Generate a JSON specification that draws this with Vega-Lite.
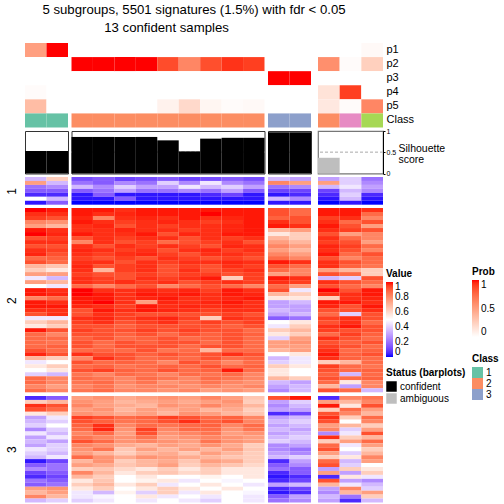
{
"$schema": "https://vega.github.io/schema/vega-lite/v6.json",
"padding": {"left": 5, "top": 2, "right": 0, "bottom": 0},
"background": "white",
"title": {"text": ["5 subgroups, 5501 signatures (1.5%) with fdr < 0.05", "13 confident samples\u00a0\u00a0\u00a0\u00a0\u00a0\u00a0\u00a0\u00a0\u00a0\u00a0\u00a0\u00a0\u00a0\u00a0\u00a0\u200b"], "anchor": "start", "align": "center", "dx": 189, "fontSize": 13.2, "fontWeight": "normal", "lineHeight": 18, "baseline": "top", "offset": 8, "color": "black"},
"datasets": {
"anno": [
{"sample":"s01","grp":"A","p1":0.5,"p2":0,"p3":0,"p4":0.02,"p5":0.35,"Class":"1","sil":0.53,"status":"confident"},
{"sample":"s02","grp":"A","p1":1,"p2":0,"p3":0,"p4":0,"p5":0,"Class":"1","sil":0.53,"status":"confident"},
{"sample":"s03","grp":"B","p1":0,"p2":1,"p3":0,"p4":0,"p5":0,"Class":"2","sil":0.86,"status":"confident"},
{"sample":"s04","grp":"B","p1":0,"p2":1,"p3":0,"p4":0,"p5":0,"Class":"2","sil":0.86,"status":"confident"},
{"sample":"s05","grp":"B","p1":0,"p2":1,"p3":0,"p4":0,"p5":0,"Class":"2","sil":0.86,"status":"confident"},
{"sample":"s06","grp":"B","p1":0,"p2":1,"p3":0,"p4":0,"p5":0,"Class":"2","sil":0.86,"status":"confident"},
{"sample":"s07","grp":"B","p1":0,"p2":0.86,"p3":0,"p4":0,"p5":0.07,"Class":"2","sil":0.78,"status":"confident"},
{"sample":"s08","grp":"B","p1":0,"p2":0.62,"p3":0,"p4":0,"p5":0.2,"Class":"2","sil":0.52,"status":"confident"},
{"sample":"s09","grp":"B","p1":0,"p2":0.85,"p3":0,"p4":0,"p5":0.05,"Class":"2","sil":0.82,"status":"confident"},
{"sample":"s10","grp":"B","p1":0,"p2":0.93,"p3":0,"p4":0,"p5":0.02,"Class":"2","sil":0.84,"status":"confident"},
{"sample":"s11","grp":"B","p1":0,"p2":0.9,"p3":0,"p4":0,"p5":0.03,"Class":"2","sil":0.84,"status":"confident"},
{"sample":"s12","grp":"C","p1":0,"p2":0,"p3":1,"p4":0,"p5":0,"Class":"3","sil":0.97,"status":"confident"},
{"sample":"s13","grp":"C","p1":0,"p2":0,"p3":1,"p4":0,"p5":0,"Class":"3","sil":0.97,"status":"confident"},
{"sample":"s14","grp":"D","p1":0,"p2":0.58,"p3":0,"p4":0.15,"p5":0.12,"Class":"2","sil":0.37,"status":"ambiguous"},
{"sample":"s15","grp":"D","p1":0,"p2":0.02,"p3":0,"p4":0.9,"p5":0.02,"Class":"4","sil":0,"status":"ambiguous"},
{"sample":"s16","grp":"D","p1":0.03,"p2":0.25,"p3":0,"p4":0,"p5":0.62,"Class":"5","sil":0,"status":"ambiguous"}
],
"heat": [
{"g":1,"r":1,"s01":0.35,"s02":0.63,"s03":0.12,"s04":0.15,"s05":0.1,"s06":0.12,"s07":0.15,"s08":0.1,"s09":0.12,"s10":0.15,"s11":0.12,"s12":0.35,"s13":0.3,"s14":0.3,"s15":0.4,"s16":0.2},
{"g":1,"r":2,"s01":0.75,"s02":0.35,"s03":0.2,"s04":0.15,"s05":0.25,"s06":0.2,"s07":0.4,"s08":0.25,"s09":0.45,"s10":0.25,"s11":0.2,"s12":0.81,"s13":0.75,"s14":0.75,"s15":0.4,"s16":0.25},
{"g":1,"r":3,"s01":0.2,"s02":0.25,"s03":0.35,"s04":0.25,"s05":0.4,"s06":0.3,"s07":0.3,"s08":0.45,"s09":0.35,"s10":0.4,"s11":0.3,"s12":0.2,"s13":0.25,"s14":0.35,"s15":0.45,"s16":0.3},
{"g":1,"r":4,"s01":0.15,"s02":0.15,"s03":0.15,"s04":0.2,"s05":0.3,"s06":0.2,"s07":0.2,"s08":0.25,"s09":0.2,"s10":0.3,"s11":0.15,"s12":0.1,"s13":0.1,"s14":0.1,"s15":0.35,"s16":0.25},
{"g":1,"r":5,"s01":0.05,"s02":0.05,"s03":0.02,"s04":0.15,"s05":0.02,"s06":0.02,"s07":0.02,"s08":0.02,"s09":0.05,"s10":0.1,"s11":0.02,"s12":0.02,"s13":0.05,"s14":0.05,"s15":0.4,"s16":0.05},
{"g":1,"r":6,"s01":0.5,"s02":0.35,"s03":0.02,"s04":0.02,"s05":0.15,"s06":0.02,"s07":0.02,"s08":0.02,"s09":0.02,"s10":0.02,"s11":0.02,"s12":0.35,"s13":0.25,"s14":0.02,"s15":0.35,"s16":0.02},
{"g":1,"r":7,"s01":0.02,"s02":0.15,"s03":0,"s04":0,"s05":0,"s06":0,"s07":0,"s08":0,"s09":0,"s10":0,"s11":0,"s12":0.02,"s13":0.02,"s14":0,"s15":0.02,"s16":0},
{"g":2,"r":1,"s01":1,"s02":0.99,"s03":0.99,"s04":0.99,"s05":0.97,"s06":0.99,"s07":0.99,"s08":0.99,"s09":0.99,"s10":0.99,"s11":0.99,"s12":0.92,"s13":0.87,"s14":0.99,"s15":0.99,"s16":0.97},
{"g":2,"r":2,"s01":0.97,"s02":0.97,"s03":0.99,"s04":0.97,"s05":0.98,"s06":0.99,"s07":0.99,"s08":0.99,"s09":1,"s10":0.99,"s11":0.99,"s12":0.92,"s13":0.87,"s14":0.99,"s15":0.99,"s16":0.87},
{"g":2,"r":3,"s01":0.95,"s02":0.92,"s03":0.98,"s04":0.81,"s05":0.97,"s06":0.98,"s07":0.97,"s08":0.99,"s09":0.97,"s10":0.98,"s11":0.99,"s12":0.89,"s13":0.92,"s14":0.95,"s15":0.97,"s16":0.81},
{"g":2,"r":4,"s01":0.81,"s02":0.78,"s03":0.99,"s04":0.97,"s05":0.95,"s06":0.97,"s07":0.98,"s08":0.97,"s09":0.95,"s10":0.97,"s11":0.99,"s12":0.97,"s13":0.92,"s14":0.97,"s15":0.87,"s16":0.92},
{"g":2,"r":5,"s01":0.75,"s02":0.69,"s03":0.97,"s04":0.98,"s05":0.92,"s06":0.97,"s07":0.95,"s08":0.97,"s09":0.97,"s10":0.98,"s11":0.99,"s12":0.99,"s13":0.97,"s14":0.99,"s15":0.92,"s16":0.75},
{"g":2,"r":6,"s01":0.99,"s02":0.97,"s03":0.97,"s04":0.97,"s05":0.98,"s06":0.97,"s07":0.97,"s08":0.95,"s09":0.97,"s10":0.98,"s11":0.99,"s12":0.69,"s13":0.75,"s14":0.97,"s15":0.95,"s16":0.92},
{"g":2,"r":7,"s01":1,"s02":0.98,"s03":0.99,"s04":0.97,"s05":0.97,"s06":0.99,"s07":0.92,"s08":0.98,"s09":0.97,"s10":0.99,"s11":0.99,"s12":0.56,"s13":0.63,"s14":0.92,"s15":0.75,"s16":0.81},
{"g":2,"r":8,"s01":0.92,"s02":0.95,"s03":0.92,"s04":0.97,"s05":0.95,"s06":0.97,"s07":0.97,"s08":0.92,"s09":0.97,"s10":0.95,"s11":0.97,"s12":0.69,"s13":0.63,"s14":0.97,"s15":0.87,"s16":0.81},
{"g":2,"r":9,"s01":0.97,"s02":0.97,"s03":0.81,"s04":0.97,"s05":0.92,"s06":0.95,"s07":0.87,"s08":0.92,"s09":0.95,"s10":0.97,"s11":0.92,"s12":0.75,"s13":0.69,"s14":0.95,"s15":0.92,"s16":0.75},
{"g":2,"r":10,"s01":0.92,"s02":0.92,"s03":0.97,"s04":0.92,"s05":0.97,"s06":0.95,"s07":0.97,"s08":0.95,"s09":0.92,"s10":0.98,"s11":0.97,"s12":0.81,"s13":0.75,"s14":0.98,"s15":0.95,"s16":0.87},
{"g":2,"r":11,"s01":0.97,"s02":0.95,"s03":0.98,"s04":0.97,"s05":0.95,"s06":0.97,"s07":0.92,"s08":0.97,"s09":0.98,"s10":0.95,"s11":0.97,"s12":0.75,"s13":0.69,"s14":0.97,"s15":0.92,"s16":0.81},
{"g":2,"r":12,"s01":0.98,"s02":0.92,"s03":0.97,"s04":0.95,"s05":0.97,"s06":0.98,"s07":0.95,"s08":0.92,"s09":0.97,"s10":0.97,"s11":0.95,"s12":0.81,"s13":0.75,"s14":0.99,"s15":0.87,"s16":0.92},
{"g":2,"r":13,"s01":0.87,"s02":0.89,"s03":0.95,"s04":0.92,"s05":0.95,"s06":0.92,"s07":0.97,"s08":0.95,"s09":0.92,"s10":0.95,"s11":0.92,"s12":0.87,"s13":0.81,"s14":0.92,"s15":0.81,"s16":0.87},
{"g":2,"r":14,"s01":0.92,"s02":0.87,"s03":0.97,"s04":0.97,"s05":0.92,"s06":0.97,"s07":0.95,"s08":0.97,"s09":0.97,"s10":0.98,"s11":0.97,"s12":0.99,"s13":0.97,"s14":0.97,"s15":0.92,"s16":0.87},
{"g":2,"r":15,"s01":0.69,"s02":0.65,"s03":0.98,"s04":0.92,"s05":0.95,"s06":0.97,"s07":0.92,"s08":0.95,"s09":0.92,"s10":0.97,"s11":0.95,"s12":0.92,"s13":0.87,"s14":0.97,"s15":0.89,"s16":0.85},
{"g":2,"r":16,"s01":0.63,"s02":0.56,"s03":0.97,"s04":0.69,"s05":0.95,"s06":0.97,"s07":0.92,"s08":0.97,"s09":0.92,"s10":0.95,"s11":0.97,"s12":0.87,"s13":0.81,"s14":0.75,"s15":0.69,"s16":0.63},
{"g":2,"r":17,"s01":0.75,"s02":0.75,"s03":0.95,"s04":0.92,"s05":0.92,"s06":0.95,"s07":0.92,"s08":0.95,"s09":0.95,"s10":0.92,"s11":0.95,"s12":0.75,"s13":0.81,"s14":0.92,"s15":0.87,"s16":0.63},
{"g":2,"r":18,"s01":0.45,"s02":0.35,"s03":0.97,"s04":0.95,"s05":0.92,"s06":0.97,"s07":0.95,"s08":0.97,"s09":0.99,"s10":0.63,"s11":0.95,"s12":0.99,"s13":0.97,"s14":0.35,"s15":0.4,"s16":0.92},
{"g":2,"r":19,"s01":0.75,"s02":0.69,"s03":0.97,"s04":0.95,"s05":0.97,"s06":0.95,"s07":0.97,"s08":0.92,"s09":0.95,"s10":0.97,"s11":0.95,"s12":0.97,"s13":0.95,"s14":0.97,"s15":0.92,"s16":0.87},
{"g":2,"r":20,"s01":0.5,"s02":0.45,"s03":0.87,"s04":0.81,"s05":0.87,"s06":0.92,"s07":0.81,"s08":0.87,"s09":0.92,"s10":0.87,"s11":0.81,"s12":0.87,"s13":0.75,"s14":0.92,"s15":0.87,"s16":0.81},
{"g":2,"r":21,"s01":0.99,"s02":0.97,"s03":1,"s04":0.97,"s05":0.97,"s06":0.98,"s07":0.97,"s08":0.98,"s09":0.95,"s10":0.99,"s11":0.97,"s12":0.92,"s13":0.45,"s14":1,"s15":0.92,"s16":0.99},
{"g":2,"r":22,"s01":0.99,"s02":0.98,"s03":1,"s04":0.99,"s05":0.97,"s06":0.99,"s07":0.98,"s08":0.99,"s09":0.97,"s10":0.99,"s11":0.98,"s12":0.69,"s13":0.63,"s14":0.97,"s15":0.97,"s16":0.99},
{"g":2,"r":23,"s01":0.81,"s02":0.87,"s03":0.99,"s04":0.99,"s05":0.97,"s06":0.98,"s07":0.99,"s08":0.97,"s09":0.97,"s10":0.98,"s11":0.99,"s12":0.56,"s13":0.56,"s14":0.63,"s15":0.97,"s16":0.98},
{"g":2,"r":24,"s01":0.99,"s02":0.97,"s03":0.99,"s04":1,"s05":0.97,"s06":0.75,"s07":0.98,"s08":0.97,"s09":0.98,"s10":0.99,"s11":0.97,"s12":0.3,"s13":0.35,"s14":0.99,"s15":0.99,"s16":0.97},
{"g":2,"r":25,"s01":0.99,"s02":0.99,"s03":0.98,"s04":0.97,"s05":0.95,"s06":0.99,"s07":0.97,"s08":0.98,"s09":0.97,"s10":0.98,"s11":0.97,"s12":0.3,"s13":0.3,"s14":0.98,"s15":0.92,"s16":0.99},
{"g":2,"r":26,"s01":0.97,"s02":0.97,"s03":0.92,"s04":0.99,"s05":0.97,"s06":0.99,"s07":0.98,"s08":0.97,"s09":0.95,"s10":0.97,"s11":0.97,"s12":0.35,"s13":0.3,"s14":0.92,"s15":0.92,"s16":0.97},
{"g":2,"r":27,"s01":0.92,"s02":0.97,"s03":0.92,"s04":0.97,"s05":0.95,"s06":0.92,"s07":0.92,"s08":0.92,"s09":0.92,"s10":0.95,"s11":0.92,"s12":0.3,"s13":0.35,"s14":0.87,"s15":0.4,"s16":0.92},
{"g":2,"r":28,"s01":0.45,"s02":0.45,"s03":0.97,"s04":0.98,"s05":0.95,"s06":0.97,"s07":0.98,"s08":0.95,"s09":0.63,"s10":0.97,"s11":0.95,"s12":0.15,"s13":0.2,"s14":0.95,"s15":0.97,"s16":0.92},
{"g":2,"r":29,"s01":0.63,"s02":0.69,"s03":0.95,"s04":0.97,"s05":0.92,"s06":0.95,"s07":0.97,"s08":0.92,"s09":0.95,"s10":0.92,"s11":0.95,"s12":0.5,"s13":0.56,"s14":0.92,"s15":0.97,"s16":0.87},
{"g":2,"r":30,"s01":0.56,"s02":0.63,"s03":0.92,"s04":0.92,"s05":0.89,"s06":0.92,"s07":0.92,"s08":0.92,"s09":0.92,"s10":0.89,"s11":0.92,"s12":0.45,"s13":0.63,"s14":0.97,"s15":0.99,"s16":0.92},
{"g":2,"r":31,"s01":0.99,"s02":0.92,"s03":0.95,"s04":0.92,"s05":0.92,"s06":0.95,"s07":0.92,"s08":0.95,"s09":0.92,"s10":0.92,"s11":0.87,"s12":0.63,"s13":0.69,"s14":0.95,"s15":0.92,"s16":0.92},
{"g":2,"r":32,"s01":0.87,"s02":0.81,"s03":0.92,"s04":0.92,"s05":0.89,"s06":0.92,"s07":0.87,"s08":0.92,"s09":0.89,"s10":0.92,"s11":0.89,"s12":0.56,"s13":0.63,"s14":0.87,"s15":0.95,"s16":0.89},
{"g":2,"r":33,"s01":0.87,"s02":0.87,"s03":0.89,"s04":0.92,"s05":0.87,"s06":0.89,"s07":0.92,"s08":0.87,"s09":0.89,"s10":0.92,"s11":0.87,"s12":0.4,"s13":0.75,"s14":0.97,"s15":0.92,"s16":0.87},
{"g":2,"r":34,"s01":0.87,"s02":0.85,"s03":0.92,"s04":0.87,"s05":0.92,"s06":0.89,"s07":0.92,"s08":0.92,"s09":0.87,"s10":0.92,"s11":0.87,"s12":0.75,"s13":0.78,"s14":0.92,"s15":0.89,"s16":0.92},
{"g":2,"r":35,"s01":0.87,"s02":0.89,"s03":0.92,"s04":0.87,"s05":0.92,"s06":0.92,"s07":0.92,"s08":0.87,"s09":0.92,"s10":0.92,"s11":0.87,"s12":0.75,"s13":0.75,"s14":0.95,"s15":0.92,"s16":0.87},
{"g":2,"r":36,"s01":0.92,"s02":0.87,"s03":0.87,"s04":0.89,"s05":0.87,"s06":0.92,"s07":0.85,"s08":0.87,"s09":0.69,"s10":0.87,"s11":0.87,"s12":0.69,"s13":0.75,"s14":0.97,"s15":0.87,"s16":0.89},
{"g":2,"r":37,"s01":0.98,"s02":0.92,"s03":0.97,"s04":0.92,"s05":0.92,"s06":0.89,"s07":0.92,"s08":0.89,"s09":0.92,"s10":0.97,"s11":0.92,"s12":0.5,"s13":0.56,"s14":0.99,"s15":0.89,"s16":0.92},
{"g":2,"r":38,"s01":0.69,"s02":0.63,"s03":0.81,"s04":0.97,"s05":0.92,"s06":0.87,"s07":0.89,"s08":0.87,"s09":0.92,"s10":0.87,"s11":0.89,"s12":0.35,"s13":0.45,"s14":0.97,"s15":0.89,"s16":0.87},
{"g":2,"r":39,"s01":0.45,"s02":0.5,"s03":0.92,"s04":0.87,"s05":0.89,"s06":0.87,"s07":0.81,"s08":0.92,"s09":0.87,"s10":0.81,"s11":0.87,"s12":0.4,"s13":0.45,"s14":0.63,"s15":0.69,"s16":0.87},
{"g":2,"r":40,"s01":0.56,"s02":0.63,"s03":0.87,"s04":0.89,"s05":0.85,"s06":0.87,"s07":0.89,"s08":0.87,"s09":0.92,"s10":0.87,"s11":0.89,"s12":0.63,"s13":0.56,"s14":0.95,"s15":0.87,"s16":0.85},
{"g":2,"r":41,"s01":0.5,"s02":0.56,"s03":0.92,"s04":0.95,"s05":0.89,"s06":0.87,"s07":0.92,"s08":0.87,"s09":0.89,"s10":0.99,"s11":0.87,"s12":0.56,"s13":0.5,"s14":0.92,"s15":0.87,"s16":0.89},
{"g":2,"r":42,"s01":0.4,"s02":0.35,"s03":0.85,"s04":0.81,"s05":0.87,"s06":0.85,"s07":0.81,"s08":0.87,"s09":0.85,"s10":0.87,"s11":0.81,"s12":0.56,"s13":0.5,"s14":0.89,"s15":0.35,"s16":0.87},
{"g":2,"r":43,"s01":0.87,"s02":0.81,"s03":0.87,"s04":0.85,"s05":0.81,"s06":0.87,"s07":0.85,"s08":0.81,"s09":0.87,"s10":0.85,"s11":0.81,"s12":0.69,"s13":0.63,"s14":0.92,"s15":0.87,"s16":0.89},
{"g":2,"r":44,"s01":0.87,"s02":0.81,"s03":0.85,"s04":0.87,"s05":0.81,"s06":0.85,"s07":0.78,"s08":0.81,"s09":0.85,"s10":0.81,"s11":0.78,"s12":0.35,"s13":0.3,"s14":0.87,"s15":0.56,"s16":0.81},
{"g":2,"r":45,"s01":0.81,"s02":0.75,"s03":0.81,"s04":0.85,"s05":0.78,"s06":0.81,"s07":0.81,"s08":0.78,"s09":0.81,"s10":0.78,"s11":0.81,"s12":0.3,"s13":0.35,"s14":0.69,"s15":0.3,"s16":0.81},
{"g":2,"r":46,"s01":0.87,"s02":0.81,"s03":0.85,"s04":0.87,"s05":0.81,"s06":0.81,"s07":0.78,"s08":0.81,"s09":0.75,"s10":0.78,"s11":0.75,"s12":0.25,"s13":0.35,"s14":0.92,"s15":0.87,"s16":0.35},
{"g":3,"r":1,"s01":0.05,"s02":0.15,"s03":0.75,"s04":0.78,"s05":0.72,"s06":0.75,"s07":0.78,"s08":0.75,"s09":0.81,"s10":0.75,"s11":0.65,"s12":0.92,"s13":0.99,"s14":0.05,"s15":0.81,"s16":0.85},
{"g":3,"r":2,"s01":0.63,"s02":0.69,"s03":0.78,"s04":0.75,"s05":0.69,"s06":0.72,"s07":0.75,"s08":0.72,"s09":0.75,"s10":0.78,"s11":0.63,"s12":0.3,"s13":0.4,"s14":0.75,"s15":0.69,"s16":0.81},
{"g":3,"r":3,"s01":0.97,"s02":0.92,"s03":0.81,"s04":0.75,"s05":0.72,"s06":0.69,"s07":0.78,"s08":0.75,"s09":0.81,"s10":0.75,"s11":0.69,"s12":0.25,"s13":0.35,"s14":0.99,"s15":0.56,"s16":0.92},
{"g":3,"r":4,"s01":0.92,"s02":0.87,"s03":0.75,"s04":0.78,"s05":0.69,"s06":0.75,"s07":0.72,"s08":0.75,"s09":0.69,"s10":0.72,"s11":0.63,"s12":0.3,"s13":0.3,"s14":0.63,"s15":0.87,"s16":0.75},
{"g":3,"r":5,"s01":0.56,"s02":0.63,"s03":0.78,"s04":0.75,"s05":0.72,"s06":0.75,"s07":0.69,"s08":0.78,"s09":0.75,"s10":0.69,"s11":0.65,"s12":0.05,"s13":0.1,"s14":0.92,"s15":0.81,"s16":0.69},
{"g":3,"r":6,"s01":0.3,"s02":0.45,"s03":0.95,"s04":0.92,"s05":0.87,"s06":0.89,"s07":0.95,"s08":0.92,"s09":0.87,"s10":0.89,"s11":0.81,"s12":0.3,"s13":0.35,"s14":0.97,"s15":0.63,"s16":0.87},
{"g":3,"r":7,"s01":0.35,"s02":0.4,"s03":0.92,"s04":0.89,"s05":0.85,"s06":0.87,"s07":0.92,"s08":0.97,"s09":0.89,"s10":0.92,"s11":0.81,"s12":0.35,"s13":0.4,"s14":0.92,"s15":0.5,"s16":0.81},
{"g":3,"r":8,"s01":0.4,"s02":0.5,"s03":0.89,"s04":0.97,"s05":0.81,"s06":0.87,"s07":0.85,"s08":0.87,"s09":0.89,"s10":0.81,"s11":0.87,"s12":0.3,"s13":0.35,"s14":0.75,"s15":0.69,"s16":0.63},
{"g":3,"r":9,"s01":0.25,"s02":0.4,"s03":0.87,"s04":0.98,"s05":0.78,"s06":0.95,"s07":0.81,"s08":0.87,"s09":0.87,"s10":0.78,"s11":0.85,"s12":0.35,"s13":0.3,"s14":0.81,"s15":0.4,"s16":0.75},
{"g":3,"r":10,"s01":0.45,"s02":0.35,"s03":0.81,"s04":0.87,"s05":0.75,"s06":0.92,"s07":0.78,"s08":0.81,"s09":0.85,"s10":0.75,"s11":0.78,"s12":0.3,"s13":0.35,"s14":0.25,"s15":0.45,"s16":0.92},
{"g":3,"r":11,"s01":0.3,"s02":0.45,"s03":0.85,"s04":0.81,"s05":0.78,"s06":0.85,"s07":0.75,"s08":0.78,"s09":0.81,"s10":0.78,"s11":0.75,"s12":0.35,"s13":0.4,"s14":0.97,"s15":0.63,"s16":0.69},
{"g":3,"r":12,"s01":0.35,"s02":0.3,"s03":0.92,"s04":0.87,"s05":0.78,"s06":0.81,"s07":0.78,"s08":0.75,"s09":0.85,"s10":0.78,"s11":0.75,"s12":0.4,"s13":0.35,"s14":0.63,"s15":0.75,"s16":0.87},
{"g":3,"r":13,"s01":0.3,"s02":0.4,"s03":0.81,"s04":0.78,"s05":0.72,"s06":0.69,"s07":0.75,"s08":0.72,"s09":0.78,"s10":0.72,"s11":0.63,"s12":0.25,"s13":0.3,"s14":0.87,"s15":0.45,"s16":0.75},
{"g":3,"r":14,"s01":0.45,"s02":0.4,"s03":0.78,"s04":0.85,"s05":0.65,"s06":0.75,"s07":0.69,"s08":0.75,"s09":0.69,"s10":0.75,"s11":0.65,"s12":0.25,"s13":0.2,"s14":0.92,"s15":0.5,"s16":0.63},
{"g":3,"r":15,"s01":0.4,"s02":0.35,"s03":0.75,"s04":0.69,"s05":0.63,"s06":0.69,"s07":0.72,"s08":0.65,"s09":0.75,"s10":0.69,"s11":0.63,"s12":0.3,"s13":0.25,"s14":0.75,"s15":0.4,"s16":0.69},
{"g":3,"r":16,"s01":0.35,"s02":0.45,"s03":0.87,"s04":0.78,"s05":0.72,"s06":0.78,"s07":0.75,"s08":0.72,"s09":0.69,"s10":0.65,"s11":0.63,"s12":0.35,"s13":0.4,"s14":0.63,"s15":0.56,"s16":0.81},
{"g":3,"r":17,"s01":0.02,"s02":0.1,"s03":0.69,"s04":0.78,"s05":0.63,"s06":0.69,"s07":0.72,"s08":0.65,"s09":0.75,"s10":0.72,"s11":0.63,"s12":0.05,"s13":0.3,"s14":0.87,"s15":0.35,"s16":0.75},
{"g":3,"r":18,"s01":0.15,"s02":0.2,"s03":0.75,"s04":0.72,"s05":0.65,"s06":0.69,"s07":0.75,"s08":0.63,"s09":0.69,"s10":0.65,"s11":0.6,"s12":0.15,"s13":0.25,"s14":0.92,"s15":0.4,"s16":0.5},
{"g":3,"r":19,"s01":0.25,"s02":0.2,"s03":0.63,"s04":0.65,"s05":0.6,"s06":0.56,"s07":0.63,"s08":0.56,"s09":0.63,"s10":0.56,"s11":0.56,"s12":0.2,"s13":0.15,"s14":0.3,"s15":0.63,"s16":0.56},
{"g":3,"r":20,"s01":0.1,"s02":0.15,"s03":0.81,"s04":0.69,"s05":0.56,"s06":0.63,"s07":0.65,"s08":0.6,"s09":0.63,"s10":0.56,"s11":0.56,"s12":0.05,"s13":0.15,"s14":0.75,"s15":0.3,"s16":0.63},
{"g":3,"r":21,"s01":0.05,"s02":0.1,"s03":0.69,"s04":0.63,"s05":0.5,"s06":0.56,"s07":0.5,"s08":0.5,"s09":0.53,"s10":0.5,"s11":0.56,"s12":0.02,"s13":0.05,"s14":0.05,"s15":0.56,"s16":0.45},
{"g":3,"r":22,"s01":0.2,"s02":0.15,"s03":0.56,"s04":0.65,"s05":0.5,"s06":0.53,"s07":0.56,"s08":0.45,"s09":0.5,"s10":0.48,"s11":0.5,"s12":0.05,"s13":0.1,"s14":0.92,"s15":0.3,"s16":0.25},
{"g":3,"r":23,"s01":0.15,"s02":0.2,"s03":0.63,"s04":0.69,"s05":0.56,"s06":0.63,"s07":0.45,"s08":0.5,"s09":0.56,"s10":0.5,"s11":0.45,"s12":0.3,"s13":0.35,"s14":0.69,"s15":0.45,"s16":0.35},
{"g":3,"r":24,"s01":0.75,"s02":0.78,"s03":0.56,"s04":0.63,"s05":0.5,"s06":0.56,"s07":0.63,"s08":0.56,"s09":0.5,"s10":0.56,"s11":0.5,"s12":0.05,"s13":0.1,"s14":0.3,"s15":0.81,"s16":0.4},
{"g":3,"r":25,"s01":0.69,"s02":0.75,"s03":0.45,"s04":0.35,"s05":0.53,"s06":0.4,"s07":0.63,"s08":0.45,"s09":0.56,"s10":0.5,"s11":0.48,"s12":0.02,"s13":0.05,"s14":0.25,"s15":0.69,"s16":0.75},
{"g":3,"r":26,"s01":0.81,"s02":0.69,"s03":0.45,"s04":0.48,"s05":0.5,"s06":0.56,"s07":0.45,"s08":0.5,"s09":0.45,"s10":0.5,"s11":0.45,"s12":0.15,"s13":0.3,"s14":0.35,"s15":0.2,"s16":0.63},
{"g":3,"r":27,"s01":0.35,"s02":0.4,"s03":0.4,"s04":0.45,"s05":0.5,"s06":0.45,"s07":0.5,"s08":0.45,"s09":0.4,"s10":0.5,"s11":0.45,"s12":0.2,"s13":0.25,"s14":0.3,"s15":0.05,"s16":0.35}
]
},
"spacing": 1.5,
"resolve": {"scale": {"color": "independent", "fill": "independent"}},
"hconcat": [
{
"spacing": 3, "bounds": "flush",
"resolve": {"scale": {"color": "independent", "fill": "independent"}},
"vconcat": [
{"width": 43, "height": 84.5, "data": {"name": "anno"},
 "transform": [{"filter": {"field": "grp", "equal": "A"}}, {"fold": ["p1","p2","p3","p4","p5","Class"], "as": ["row","v"]}],
 "layer": [
  {"transform": [{"filter": "datum.row !== 'Class'"}], "mark": "rect",
   "encoding": {"x": {"field": "sample", "type": "nominal", "axis": null}, "y": {"field": "row", "type": "nominal", "scale": {"domain": ["p1","p2","p3","p4","p5","Class"]}, "axis": null},
    "fill": {"field": "v", "type": "quantitative", "scale": {"domain": [0,1], "range": ["#FFFFFF","#FF0000"], "interpolate": "lab"}, "legend": null}}},
  {"transform": [{"filter": "datum.row === 'Class'"}], "mark": "rect",
   "encoding": {"x": {"field": "sample", "type": "nominal", "axis": null}, "y": {"field": "row", "type": "nominal", "scale": {"domain": ["p1","p2","p3","p4","p5","Class"]}, "axis": null},
    "color": {"field": "v", "type": "nominal", "scale": {"domain": ["1","2","3","4","5"], "range": ["#66C2A5","#FC8D62","#8DA0CB","#E78AC3","#A6D854"]}, "legend": null}}}
 ]},
{"width": 43, "height": 42.5, "view": {"stroke": "#333", "strokeWidth": 1}, "data": {"name": "anno"},
 "transform": [{"filter": {"field": "grp", "equal": "A"}}],
 "layer": [
  {"mark": {"type": "rule", "color": "#C8C8C8", "strokeDash": [3,2]}, "encoding": {"y": {"datum": 0.5, "type": "quantitative", "scale": {"domain": [0,1], "nice": false}, "axis": null}}},
  {"mark": "bar", "encoding": {"x": {"field": "sample", "type": "nominal", "axis": null, "scale": {"paddingInner": 0, "paddingOuter": 0}}, "y": {"field": "sil", "type": "quantitative", "scale": {"domain": [0,1], "nice": false}, "axis": null},
   "color": {"field": "status", "type": "nominal", "scale": {"domain": ["confident","ambiguous"], "range": ["#000000","#BEBEBE"]}, "legend": null}}}
 ]},
{"width": 43, "height": 27.7, "data": {"name": "heat"},
 "transform": [{"filter": {"field": "g", "equal": 1}}, {"fold": ["s01","s02"], "as": ["sample","value"]}],
 "mark": "rect",
 "encoding": {"x": {"field": "sample", "type": "nominal", "axis": null}, "y": {"field": "r", "type": "ordinal", "axis": {"title": "1", "labels": false, "ticks": false, "domain": false, "minExtent": 0, "titlePadding": 7, "titleFontSize": 12, "titleFontWeight": "normal"}},
  "color": {"field": "value", "type": "quantitative", "scale": {"domain": [0,0.5,1], "range": ["#0000FF","#FFFFFF","#FF0000"], "interpolate": "lab"}, "legend": null}}},
{"width": 43, "height": 184.3, "data": {"name": "heat"},
 "transform": [{"filter": {"field": "g", "equal": 2}}, {"fold": ["s01","s02"], "as": ["sample","value"]}],
 "mark": "rect",
 "encoding": {"x": {"field": "sample", "type": "nominal", "axis": null}, "y": {"field": "r", "type": "ordinal", "axis": {"title": "2", "labels": false, "ticks": false, "domain": false, "minExtent": 0, "titlePadding": 7, "titleFontSize": 12, "titleFontWeight": "normal"}},
  "color": {"field": "value", "type": "quantitative", "scale": {"domain": [0,0.5,1], "range": ["#0000FF","#FFFFFF","#FF0000"], "interpolate": "lab"}, "legend": null}}},
{"width": 43, "height": 106.5, "data": {"name": "heat"},
 "transform": [{"filter": {"field": "g", "equal": 3}}, {"fold": ["s01","s02"], "as": ["sample","value"]}],
 "mark": "rect",
 "encoding": {"x": {"field": "sample", "type": "nominal", "axis": null}, "y": {"field": "r", "type": "ordinal", "axis": {"title": "3", "labels": false, "ticks": false, "domain": false, "minExtent": 0, "titlePadding": 7, "titleFontSize": 12, "titleFontWeight": "normal"}},
  "color": {"field": "value", "type": "quantitative", "scale": {"domain": [0,0.5,1], "range": ["#0000FF","#FFFFFF","#FF0000"], "interpolate": "lab"}, "legend": null}}}
]
},
{
"spacing": 3, "bounds": "flush",
"resolve": {"scale": {"color": "independent", "fill": "independent"}},
"vconcat": [
{"width": 193, "height": 84.5, "data": {"name": "anno"},
 "transform": [{"filter": {"field": "grp", "equal": "B"}}, {"fold": ["p1","p2","p3","p4","p5","Class"], "as": ["row","v"]}],
 "layer": [
  {"transform": [{"filter": "datum.row !== 'Class'"}], "mark": "rect",
   "encoding": {"x": {"field": "sample", "type": "nominal", "axis": null}, "y": {"field": "row", "type": "nominal", "scale": {"domain": ["p1","p2","p3","p4","p5","Class"]}, "axis": null},
    "fill": {"field": "v", "type": "quantitative", "scale": {"domain": [0,1], "range": ["#FFFFFF","#FF0000"], "interpolate": "lab"}, "legend": null}}},
  {"transform": [{"filter": "datum.row === 'Class'"}], "mark": "rect",
   "encoding": {"x": {"field": "sample", "type": "nominal", "axis": null}, "y": {"field": "row", "type": "nominal", "scale": {"domain": ["p1","p2","p3","p4","p5","Class"]}, "axis": null},
    "color": {"field": "v", "type": "nominal", "scale": {"domain": ["1","2","3","4","5"], "range": ["#66C2A5","#FC8D62","#8DA0CB","#E78AC3","#A6D854"]}, "legend": null}}}
 ]},
{"width": 193, "height": 42.5, "view": {"stroke": "#333", "strokeWidth": 1}, "data": {"name": "anno"},
 "transform": [{"filter": {"field": "grp", "equal": "B"}}],
 "layer": [
  {"mark": {"type": "rule", "color": "#C8C8C8", "strokeDash": [3,2]}, "encoding": {"y": {"datum": 0.5, "type": "quantitative", "scale": {"domain": [0,1], "nice": false}, "axis": null}}},
  {"mark": "bar", "encoding": {"x": {"field": "sample", "type": "nominal", "axis": null, "scale": {"paddingInner": 0, "paddingOuter": 0}}, "y": {"field": "sil", "type": "quantitative", "scale": {"domain": [0,1], "nice": false}, "axis": null},
   "color": {"field": "status", "type": "nominal", "scale": {"domain": ["confident","ambiguous"], "range": ["#000000","#BEBEBE"]}, "legend": null}}}
 ]},
{"width": 193, "height": 27.7, "data": {"name": "heat"},
 "transform": [{"filter": {"field": "g", "equal": 1}}, {"fold": ["s03","s04","s05","s06","s07","s08","s09","s10","s11"], "as": ["sample","value"]}],
 "mark": "rect",
 "encoding": {"x": {"field": "sample", "type": "nominal", "axis": null}, "y": {"field": "r", "type": "ordinal", "axis": null},
  "color": {"field": "value", "type": "quantitative", "scale": {"domain": [0,0.5,1], "range": ["#0000FF","#FFFFFF","#FF0000"], "interpolate": "lab"}, "legend": null}}},
{"width": 193, "height": 184.3, "data": {"name": "heat"},
 "transform": [{"filter": {"field": "g", "equal": 2}}, {"fold": ["s03","s04","s05","s06","s07","s08","s09","s10","s11"], "as": ["sample","value"]}],
 "mark": "rect",
 "encoding": {"x": {"field": "sample", "type": "nominal", "axis": null}, "y": {"field": "r", "type": "ordinal", "axis": null},
  "color": {"field": "value", "type": "quantitative", "scale": {"domain": [0,0.5,1], "range": ["#0000FF","#FFFFFF","#FF0000"], "interpolate": "lab"}, "legend": null}}},
{"width": 193, "height": 106.5, "data": {"name": "heat"},
 "transform": [{"filter": {"field": "g", "equal": 3}}, {"fold": ["s03","s04","s05","s06","s07","s08","s09","s10","s11"], "as": ["sample","value"]}],
 "mark": "rect",
 "encoding": {"x": {"field": "sample", "type": "nominal", "axis": null}, "y": {"field": "r", "type": "ordinal", "axis": null},
  "color": {"field": "value", "type": "quantitative", "scale": {"domain": [0,0.5,1], "range": ["#0000FF","#FFFFFF","#FF0000"], "interpolate": "lab"}, "legend": null}}}
]
},
{
"spacing": 3, "bounds": "flush",
"resolve": {"scale": {"color": "independent", "fill": "independent"}},
"vconcat": [
{"width": 43, "height": 84.5, "data": {"name": "anno"},
 "transform": [{"filter": {"field": "grp", "equal": "C"}}, {"fold": ["p1","p2","p3","p4","p5","Class"], "as": ["row","v"]}],
 "layer": [
  {"transform": [{"filter": "datum.row !== 'Class'"}], "mark": "rect",
   "encoding": {"x": {"field": "sample", "type": "nominal", "axis": null}, "y": {"field": "row", "type": "nominal", "scale": {"domain": ["p1","p2","p3","p4","p5","Class"]}, "axis": null},
    "fill": {"field": "v", "type": "quantitative", "scale": {"domain": [0,1], "range": ["#FFFFFF","#FF0000"], "interpolate": "lab"}, "legend": null}}},
  {"transform": [{"filter": "datum.row === 'Class'"}], "mark": "rect",
   "encoding": {"x": {"field": "sample", "type": "nominal", "axis": null}, "y": {"field": "row", "type": "nominal", "scale": {"domain": ["p1","p2","p3","p4","p5","Class"]}, "axis": null},
    "color": {"field": "v", "type": "nominal", "scale": {"domain": ["1","2","3","4","5"], "range": ["#66C2A5","#FC8D62","#8DA0CB","#E78AC3","#A6D854"]}, "legend": null}}}
 ]},
{"width": 43, "height": 42.5, "view": {"stroke": "#333", "strokeWidth": 1}, "data": {"name": "anno"},
 "transform": [{"filter": {"field": "grp", "equal": "C"}}],
 "layer": [
  {"mark": {"type": "rule", "color": "#C8C8C8", "strokeDash": [3,2]}, "encoding": {"y": {"datum": 0.5, "type": "quantitative", "scale": {"domain": [0,1], "nice": false}, "axis": null}}},
  {"mark": "bar", "encoding": {"x": {"field": "sample", "type": "nominal", "axis": null, "scale": {"paddingInner": 0, "paddingOuter": 0}}, "y": {"field": "sil", "type": "quantitative", "scale": {"domain": [0,1], "nice": false}, "axis": null},
   "color": {"field": "status", "type": "nominal", "scale": {"domain": ["confident","ambiguous"], "range": ["#000000","#BEBEBE"]}, "legend": null}}}
 ]},
{"width": 43, "height": 27.7, "data": {"name": "heat"},
 "transform": [{"filter": {"field": "g", "equal": 1}}, {"fold": ["s12","s13"], "as": ["sample","value"]}],
 "mark": "rect",
 "encoding": {"x": {"field": "sample", "type": "nominal", "axis": null}, "y": {"field": "r", "type": "ordinal", "axis": null},
  "color": {"field": "value", "type": "quantitative", "scale": {"domain": [0,0.5,1], "range": ["#0000FF","#FFFFFF","#FF0000"], "interpolate": "lab"}, "legend": null}}},
{"width": 43, "height": 184.3, "data": {"name": "heat"},
 "transform": [{"filter": {"field": "g", "equal": 2}}, {"fold": ["s12","s13"], "as": ["sample","value"]}],
 "mark": "rect",
 "encoding": {"x": {"field": "sample", "type": "nominal", "axis": null}, "y": {"field": "r", "type": "ordinal", "axis": null},
  "color": {"field": "value", "type": "quantitative", "scale": {"domain": [0,0.5,1], "range": ["#0000FF","#FFFFFF","#FF0000"], "interpolate": "lab"}, "legend": null}}},
{"width": 43, "height": 106.5, "data": {"name": "heat"},
 "transform": [{"filter": {"field": "g", "equal": 3}}, {"fold": ["s12","s13"], "as": ["sample","value"]}],
 "mark": "rect",
 "encoding": {"x": {"field": "sample", "type": "nominal", "axis": null}, "y": {"field": "r", "type": "ordinal", "axis": null},
  "color": {"field": "value", "type": "quantitative", "scale": {"domain": [0,0.5,1], "range": ["#0000FF","#FFFFFF","#FF0000"], "interpolate": "lab"}, "legend": null}}}
]
},
{"width": 1, "height": 10, "view": {"fill": "white"}, "data": {"values": []}, "mark": "point", "encoding": {}},
{
"spacing": 3, "bounds": "flush",
"resolve": {"scale": {"color": "independent", "fill": "independent"}},
"vconcat": [
{"width": 65, "height": 84.5, "data": {"name": "anno"},
 "transform": [{"filter": {"field": "grp", "equal": "D"}}, {"fold": ["p1","p2","p3","p4","p5","Class"], "as": ["row","v"]}],
 "layer": [
  {"transform": [{"filter": "datum.row !== 'Class'"}], "mark": "rect",
   "encoding": {"x": {"field": "sample", "type": "nominal", "axis": null}, "y": {"field": "row", "type": "nominal", "scale": {"domain": ["p1","p2","p3","p4","p5","Class"]}, "axis": {"orient": "right", "ticks": false, "domain": false, "labelFontSize": 11, "labelPadding": 3, "title": null, "minExtent": 0}},
    "fill": {"field": "v", "type": "quantitative", "scale": {"domain": [0,1], "range": ["#FFFFFF","#FF0000"], "interpolate": "lab"}, "legend": {"orient": "none", "legendX": 154, "legendY": 224, "title": "Prob", "values": [0,0.5,1], "format": "~g", "gradientLength": 57, "gradientThickness": 7, "direction": "vertical"}}}},
  {"transform": [{"filter": "datum.row === 'Class'"}], "mark": "rect",
   "encoding": {"x": {"field": "sample", "type": "nominal", "axis": null}, "y": {"field": "row", "type": "nominal", "scale": {"domain": ["p1","p2","p3","p4","p5","Class"]}, "axis": {"orient": "right", "ticks": false, "domain": false, "labelFontSize": 11, "labelPadding": 3, "title": null, "minExtent": 0}},
    "color": {"field": "v", "type": "nominal", "scale": {"domain": ["1","2","3","4","5"], "range": ["#66C2A5","#FC8D62","#8DA0CB","#E78AC3","#A6D854"]}, "legend": {"orient": "none", "legendX": 154, "legendY": 311, "title": "Class", "values": ["1","2","3"], "symbolType": "square", "symbolSize": 121, "rowPadding": 0, "direction": "vertical"}}}}
 ]},
{"width": 65, "height": 42.5, "view": {"stroke": "#777", "strokeWidth": 1.2}, "data": {"name": "anno"},
 "transform": [{"filter": {"field": "grp", "equal": "D"}}],
 "layer": [
  {"mark": {"type": "rule", "color": "#C8C8C8", "strokeDash": [3,2]}, "encoding": {"y": {"datum": 0.5, "type": "quantitative", "scale": {"domain": [0,1], "nice": false}, "axis": {"orient": "right", "values": [0,0.5,1], "format": "~g", "tickSize": 2, "labelFontSize": 7, "labelPadding": 1, "domainColor": "black", "tickColor": "black", "title": ["Silhouette","score"], "titleAngle": 0, "titleAlign": "left", "titleBaseline": "top", "titleX": 15, "titleY": 12, "titleFontSize": 10.5, "titleFontWeight": "normal", "titleLineHeight": 11, "minExtent": 0}}}},
  {"mark": "bar", "encoding": {"x": {"field": "sample", "type": "nominal", "axis": null, "scale": {"paddingInner": 0, "paddingOuter": 0}}, "y": {"field": "sil", "type": "quantitative", "scale": {"domain": [0,1], "nice": false}, "axis": {"orient": "right", "values": [0,0.5,1], "format": "~g", "tickSize": 2, "labelFontSize": 7, "labelPadding": 1, "domainColor": "black", "tickColor": "black", "title": ["Silhouette","score"], "titleAngle": 0, "titleAlign": "left", "titleBaseline": "top", "titleX": 15, "titleY": 12, "titleFontSize": 10.5, "titleFontWeight": "normal", "titleLineHeight": 11, "minExtent": 0}},
   "color": {"field": "status", "type": "nominal", "scale": {"domain": ["confident","ambiguous"], "range": ["#000000","#BEBEBE"]}, "legend": {"orient": "none", "legendX": 68, "legendY": 237, "title": "Status (barplots)", "symbolType": "square", "symbolSize": 110, "rowPadding": 1}}}}
 ]},
{"width": 65, "height": 27.7, "data": {"name": "heat"},
 "transform": [{"filter": {"field": "g", "equal": 1}}, {"fold": ["s14","s15","s16"], "as": ["sample","value"]}],
 "mark": "rect",
 "encoding": {"x": {"field": "sample", "type": "nominal", "axis": null}, "y": {"field": "r", "type": "ordinal", "axis": null},
  "color": {"field": "value", "type": "quantitative", "scale": {"domain": [0,0.5,1], "range": ["#0000FF","#FFFFFF","#FF0000"], "interpolate": "lab"}, "legend": null}}},
{"width": 65, "height": 184.3, "data": {"name": "heat"},
 "transform": [{"filter": {"field": "g", "equal": 2}}, {"fold": ["s14","s15","s16"], "as": ["sample","value"]}],
 "mark": "rect",
 "encoding": {"x": {"field": "sample", "type": "nominal", "axis": null}, "y": {"field": "r", "type": "ordinal", "axis": null},
  "color": {"field": "value", "type": "quantitative", "scale": {"domain": [0,0.5,1], "range": ["#0000FF","#FFFFFF","#FF0000"], "interpolate": "lab"}, "legend": {"orient": "none", "legendX": 68, "legendY": 61, "title": "Value", "values": [0,0.2,0.4,0.6,0.8,1], "format": "~g", "gradientLength": 75, "gradientThickness": 7, "direction": "vertical"}}}},
{"width": 65, "height": 106.5, "data": {"name": "heat"},
 "transform": [{"filter": {"field": "g", "equal": 3}}, {"fold": ["s14","s15","s16"], "as": ["sample","value"]}],
 "mark": "rect",
 "encoding": {"x": {"field": "sample", "type": "nominal", "axis": null}, "y": {"field": "r", "type": "ordinal", "axis": null},
  "color": {"field": "value", "type": "quantitative", "scale": {"domain": [0,0.5,1], "range": ["#0000FF","#FFFFFF","#FF0000"], "interpolate": "lab"}, "legend": null}}}
]
}
],
"config": {
 "font": "Liberation Sans",
 "view": {"stroke": null},
 "axis": {"grid": false, "labelColor": "black", "titleColor": "black"},
 "legend": {"titleFontSize": 10, "labelFontSize": 10, "titleFontWeight": "bold", "titleColor": "black", "labelColor": "black", "gradientStrokeWidth": 0, "symbolStrokeWidth": 0, "titlePadding": 3, "labelOffset": 3, "labelOverlap": false}
}
}
